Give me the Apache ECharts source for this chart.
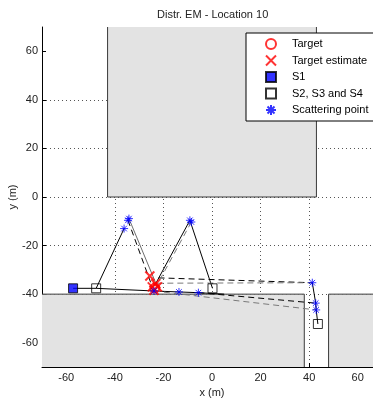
<!DOCTYPE html>
<html><head><meta charset="utf-8">
<script src="https://cdn.jsdelivr.net/npm/echarts@6/dist/echarts.min.js"></script>
<style>html,body{margin:0;padding:0;background:#fff}#c{width:373px;height:400px}</style>
</head><body><div id="c"></div>
<script>
// ---- data ----
const xTickLabels = [-60, -40, -20, 0, 20, 40, 60];
const yTickLabels = [-60, -40, -20, 0, 20, 40, 60];
const targetPt = [[-23.5, -37.5]];
const targetEstimates = [[-25.6, -32.5], [-23.2, -35.7], [-24.6, -37.0], [-23.9, -38.4], [-22.5, -37.0]];
const s1Pt = [[-57.2, -37.6]];
const s234Pts = [[-47.7, -37.6], [0.2, -37.6], [43.6, -52.3]];
const scatterPts = [[-34.2, -8.9], [-34.6, -9.6], [-36.2, -13.0], [-9.1, -9.6], [-8.5, -10.3],
  [-23.9, -38.7], [-13.6, -39.1], [-5.6, -39.4], [41.3, -35.3], [42.7, -43.7], [42.9, -46.5]];
// propagation paths
const solidBlackPaths = [
  [[-57.2, -37.6], [-47.7, -37.6], [-23.9, -38.7]],
  [[-47.7, -37.6], [-36.2, -13.0]],
  [[-23.2, -35.7], [-9.1, -9.6], [0.2, -37.6]],
  [[43.6, -52.3], [42.9, -46.5], [42.7, -43.7], [41.3, -35.3]],
  [[-23.9, -38.7], [-13.6, -39.1], [-5.6, -39.4], [5.0, -40.0]]
];
const solidGreyPaths = [
  [[-34.2, -8.9], [-22.5, -37.0]]
];
const dashedBlackPaths = [
  [[-34.6, -9.6], [-24.6, -37.0]],
  [[-22.0, -33.3], [41.3, -35.3]],
  [[-5.6, -39.4], [42.7, -43.7]]
];
const dashedGreyPaths = [
  [[-8.5, -10.3], [-22.5, -36.0]],
  [[-22.5, -35.5], [41.3, -35.3]],
  [[-23.9, -38.7], [42.9, -46.5]]
];
// obstacles (buildings / ground)
const regionFills = [
  [[-43, 0], [43, 0], [43, 70], [-43, 70]],
  [[-70, -70], [-70, -40], [38, -40], [38, -70]],
  [[48, -70], [48, -40], [70, -40], [70, -70]]
];
const regionEdges = [
  [[-43, 70], [-43, 0], [43, 0], [43, 70]],
  [[-70, -40], [38, -40], [38, -70]],
  [[48, -70], [48, -40], [70, -40]]
];

// ---- chart ----
const FONT = "'Liberation Sans', Arial, sans-serif";
const chart = echarts.init(document.getElementById('c'), null, {renderer: 'canvas'});
const series = [];
series.push({
  type: 'custom', name: 'regions', silent: true, z: 1,
  data: regionFills.map((r, i) => [i]),
  renderItem: function (params, api) {
    const i = params.dataIndex;
    return {type: 'group', children: [
      {type: 'polygon', shape: {points: regionFills[i].map(p => api.coord(p))}, style: {fill: '#e3e3e3', stroke: null}},
      {type: 'polyline', shape: {points: regionEdges[i].map(p => api.coord(p))}, style: {fill: null, stroke: '#3a3a3a', lineWidth: 1}}
    ]};
  }
});
function addPaths(paths, color, type) {
  paths.forEach(p => series.push({
    type: 'line', data: p, symbol: 'none', silent: true, z: 3,
    lineStyle: {color: color, width: 1, type: type}
  }));
}
addPaths(solidBlackPaths, '#000', 'solid');
addPaths(solidGreyPaths, '#6e6e6e', 'solid');
addPaths(dashedBlackPaths, '#000', [6, 4]);
addPaths(dashedGreyPaths, '#7a7a7a', [6, 4]);

const starPath = 'path://M5,0L5,10M0,5L10,5M1.5,1.5L8.5,8.5M8.5,1.5L1.5,8.5';
const xPath = 'path://M0,0L10,10M10,0L0,10';
const sqPath = 'path://M0,0L10,0L10,10L0,10Z';
series.push(
  {name: 'Target', type: 'scatter', data: targetPt, symbol: 'circle', symbolSize: 9, z: 5,
    itemStyle: {color: 'rgba(0,0,0,0)', borderColor: '#ff0000', borderWidth: 2}},
  {name: 'Target estimate', type: 'scatter', data: targetEstimates, symbol: xPath, symbolSize: 9, z: 6,
    itemStyle: {color: 'rgba(0,0,0,0)', borderColor: '#ff0000', borderWidth: 2}},
  {name: 'S1', type: 'scatter', data: s1Pt, symbol: sqPath, symbolSize: 9, z: 5,
    itemStyle: {color: '#0000ff', borderColor: '#000', borderWidth: 1}},
  {name: 'S2, S3 and S4', type: 'scatter', data: s234Pts, symbol: sqPath, symbolSize: 9, z: 5,
    itemStyle: {color: 'rgba(0,0,0,0)', borderColor: '#000', borderWidth: 1}},
  {name: 'Scattering point', type: 'scatter', data: scatterPts, symbol: starPath, symbolSize: 8, z: 7,
    itemStyle: {color: 'rgba(0,0,0,0)', borderColor: '#0000ff', borderWidth: 1}}
);

const axisCommon = {
  type: 'value', min: -70, max: 70, splitNumber: 7, minInterval: 20, maxInterval: 20,
  nameLocation: 'middle', nameMoveOverlap: false,
  nameTextStyle: {fontFamily: FONT, fontSize: 11, color: '#222'},
  axisLine: {onZero: false, lineStyle: {color: '#000', width: 1}},
  axisTick: {inside: true, length: 4, lineStyle: {color: '#000'}},
  axisLabel: {fontFamily: FONT, fontSize: 11, color: '#222', margin: 5, formatter: v => String(v)},
  splitLine: {show: true, showMinLine: false, showMaxLine: false, lineStyle: {color: '#555', type: [1, 3], width: 1}}
};

chart.setOption({
  animation: false,
  backgroundColor: '#fff',
  title: {text: 'Distr. EM - Location 10', left: 152, top: 4,
    textStyle: {fontFamily: FONT, fontSize: 11, fontWeight: 'normal', color: '#222'}},
  grid: {left: 42, top: 27, width: 340, height: 340, containLabel: false, outerBoundsMode: 'none'},
  xAxis: Object.assign({}, axisCommon, {name: 'x (m)', nameGap: 20,
    axisLabel: Object.assign({}, axisCommon.axisLabel, {customValues: xTickLabels}),
    axisTick: Object.assign({}, axisCommon.axisTick, {customValues: xTickLabels})}),
  yAxis: Object.assign({}, axisCommon, {name: 'y (m)', nameGap: 24,
    axisLabel: Object.assign({}, axisCommon.axisLabel, {margin: 4, customValues: yTickLabels}),
    axisTick: Object.assign({}, axisCommon.axisTick, {customValues: yTickLabels})}),
  legend: {
    orient: 'vertical', left: 246, top: 33,
    data: ['Target', 'Target estimate', 'S1', 'S2, S3 and S4', 'Scattering point'],
    backgroundColor: '#fff', borderColor: '#000', borderWidth: 1,
    padding: [5, 40, 5, 19], itemWidth: 32, itemHeight: 10, itemGap: 4.5,
    selectedMode: false,
    textStyle: {fontFamily: FONT, fontSize: 11, color: '#000', lineHeight: 10}
  },
  series: series
});
</script></body></html>
